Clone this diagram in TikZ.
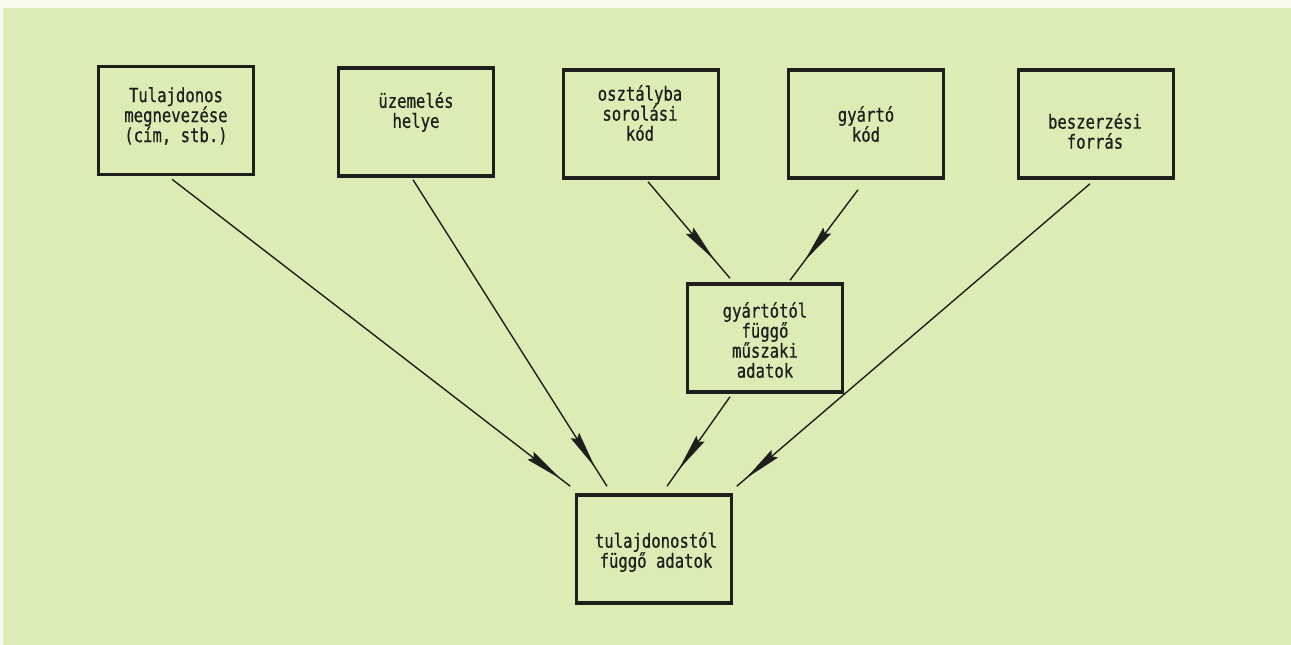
\documentclass[tikz,border=0pt]{standalone}
\usepackage{fontspec}
\setmainfont[FakeStretch=0.8,FakeBold=0.6]{DejaVu Sans Mono}
\usetikzlibrary{decorations.markings,calc}
\definecolor{bg}{RGB}{221,236,181}
\definecolor{paper}{RGB}{250,251,240}
\definecolor{ink}{RGB}{30,30,28}
\begin{document}
\begin{tikzpicture}[x=1pt,y=-1pt,
 box/.style={draw=ink,line width=3.5pt,minimum width=155pt,minimum height=108pt,inner sep=0pt},
 lbl/.style={text=ink,align=center,font=\fontsize{19.5}{20}\selectfont,inner sep=0pt},
 conn/.style={draw=ink,line width=1.4pt,postaction={decorate},
   decoration={markings,mark=at position #1 with {\fill[ink] (0pt,0pt) -- (-38pt,5pt) -- (-34pt,0pt) -- (-38pt,-5pt) -- cycle;}}},
]
\useasboundingbox (0,0) rectangle (1291,645);
\fill[paper] (0,0) rectangle (1291,645);
\fill[bg] (3,8) rectangle (1291,645);

\node[box] (b1) at (176,120.5) {};
\node[box] (b2) at (416,122) {};
\node[box] (b3) at (641,124) {};
\node[box] (b4) at (866,124) {};
\node[box] (b5) at (1096,124) {};
\node[box] (mid) at (765,338) {};
\node[box] (bot) at (654,549) {};

\node[lbl] (t1) at (176,116) {Tulajdonos\\megnevezése\\(cím, stb.)};
\node[lbl] (t2) at (416,112) {üzemelés\\helye};
\node[lbl] (t3) at (640,113) {osztályba\\sorolási\\kód};
\node[lbl] (t4) at (866,124) {gyártó\\kód};
\node[lbl] (t5) at (1095,131) {beszerzési\\forrás};
\node[lbl] (tm) at (765,340) {gyártótól\\függő\\műszaki\\adatok};
\node[lbl] (tb) at (656,552) {tulajdonostól\\függő adatok};

\draw[conn=-12pt] ($(b1.south)+(-4,3)$) -- ($(bot.north west)+(-4.5,-7)$);
\draw[conn=-22pt] ($(b2.south)+(-3,2)$) -- ($(bot.north)+(-47,-7)$);
\draw[conn=-20pt] ($(mid.south)+(-35,3)$) -- ($(bot.north)+(13,-7)$);
\draw[conn=-12pt] ($(b5.south)+(-6,4)$) -- ($(bot.north east)+(3.5,-7)$);
\draw[conn=-24pt] ($(b3.south)+(7,2)$) -- ($(mid.north)+(-35,-4)$);
\draw[conn=-24pt] ($(b4.south)+(-8,10)$) -- ($(mid.north)+(25,-2)$);
\end{tikzpicture}
\end{document}
